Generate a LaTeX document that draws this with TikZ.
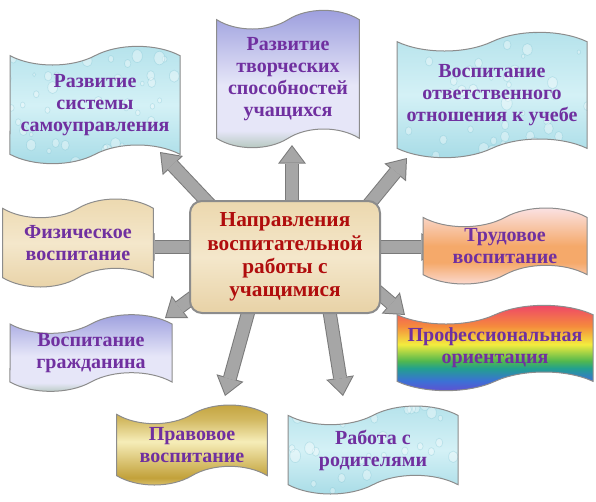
\documentclass[tikz,border=0pt]{standalone}
\usepackage{fontspec}
\setmainfont{Liberation Serif}
\usetikzlibrary{shapes.symbols,arrows.meta,calc,backgrounds}

\definecolor{rimgray}{HTML}{8C8C8C}
\definecolor{arrowrimgray}{HTML}{7A7A7A}
\definecolor{arrowgray}{HTML}{A6A6A6}
\definecolor{textpurple}{HTML}{7030A0}
\definecolor{deepred}{HTML}{B00D0D}
% fills
\definecolor{waterT}{HTML}{B4E2EB}
\definecolor{waterL}{HTML}{D4F1F6}
\definecolor{waterB}{HTML}{A6DBE6}
\definecolor{waterE}{HTML}{5FB3C6}
\definecolor{lavT}{HTML}{9A9CDD}
\definecolor{lavL}{HTML}{E6E6F8}
\definecolor{lavB}{HTML}{AEC3B6}
\definecolor{parchT}{HTML}{ECD8AE}
\definecolor{parchL}{HTML}{F4E7CB}
\definecolor{parchB}{HTML}{E8D2A6}
\definecolor{peachT}{HTML}{FBE6EC}
\definecolor{peachM}{HTML}{F5A96A}
\definecolor{peachB}{HTML}{FCE0DE}
\definecolor{goldD}{HTML}{C2A13A}
\definecolor{goldL}{HTML}{F6EDB8}
\definecolor{goldB}{HTML}{E3CD80}
\definecolor{rbRed}{HTML}{EE3D6E}
\definecolor{rbOrange}{HTML}{F58A3D}
\definecolor{rbYellow}{HTML}{F3EC3E}
\definecolor{rbGreen}{HTML}{52B84E}
\definecolor{rbTeal}{HTML}{22A08E}
\definecolor{rbBlue}{HTML}{3C70D6}
\definecolor{rbViolet}{HTML}{6A48CF}

\pgfdeclareverticalshading{waterfill}{100bp}{color(0bp)=(waterB); color(25bp)=(waterB); color(50bp)=(waterL); color(75bp)=(waterT); color(100bp)=(waterT)}
\pgfdeclareverticalshading{lavfill}{100bp}{color(0bp)=(lavB); color(25bp)=(lavB); color(32bp)=(lavL); color(48bp)=(lavL); color(75bp)=(lavT); color(100bp)=(lavT)}
\pgfdeclareverticalshading{parchfill}{100bp}{color(0bp)=(parchB); color(25bp)=(parchB); color(50bp)=(parchL); color(75bp)=(parchT); color(100bp)=(parchT)}
\pgfdeclareverticalshading{peachfill}{100bp}{color(0bp)=(peachB); color(25bp)=(peachB); color(40bp)=(peachM); color(50bp)=(peachM); color(75bp)=(peachT); color(100bp)=(peachT)}
\pgfdeclareverticalshading{goldfill}{100bp}{color(0bp)=(goldB); color(25bp)=(goldB); color(31bp)=(goldD); color(52bp)=(goldL); color(65bp)=(goldD!70!goldL); color(75bp)=(goldD); color(100bp)=(goldD)}
\pgfdeclareverticalshading{rainbowfill}{100bp}{color(0bp)=(rbViolet); color(25bp)=(rbViolet); color(32bp)=(rbBlue); color(39bp)=(rbTeal); color(43bp)=(rbGreen); color(52bp)=(rbYellow); color(62bp)=(rbOrange); color(75bp)=(rbRed); color(100bp)=(rbRed)}

% water drops for the blue banners
\newcommand{\waterdrops}{%
  \foreach \k in {1,...,70}{%
    \pgfmathsetmacro{\dropx}{240*rnd-120}%
    \pgfmathsetmacro{\dropy}{150*rnd-75}%
    \pgfmathsetmacro{\dropr}{1.5+4*rnd}%
    \filldraw[white, fill opacity=0.35, draw=waterE, draw opacity=0.25, line width=0.5pt]
      ($(path picture bounding box.center)+(\dropx,\dropy)$) ellipse [x radius=\dropr, y radius=1.25*\dropr];
  }}

\tikzset{
  banner/.style={tape, tape bend top=in and out, tape bend bottom=in and out, tape bend height=14pt,
    draw=rimgray, line width=0.75pt, shade, text=textpurple,
    font=\bfseries\fontsize{15}{16.5}\selectfont, align=center, inner sep=0pt},
  water/.style={shading=waterfill, path picture={\waterdrops}},
  lavender/.style={shading=lavfill},
  parchment/.style={shading=parchfill},
  peach/.style={shading=peachfill},
  gold/.style={shading=goldfill},
  rainbow/.style={shading=rainbowfill},
  hub/.style={rectangle, rounded corners=9pt, draw=rimgray, line width=1.5pt, shade, shading=parchfill,
    text=deepred, font=\bfseries\fontsize{16}{17.5}\selectfont, align=center, inner sep=0pt},
  arrowrim/.style={draw=arrowrimgray, line width=10.5pt, -{Triangle[width=21pt,length=14pt,line width=0pt]}},
  arrowbody/.style={draw=arrowgray, line width=9pt, shorten >=1.25pt, -{Triangle[width=18pt,length=12pt,line width=0pt]}}
}
\newcommand{\blockarrow}[2]{\draw[arrowrim] #1 -- #2; \draw[arrowbody] #1 -- #2;}

\begin{document}
\begin{tikzpicture}[x=0.75pt,y=0.75pt,yscale=-1]
	\useasboundingbox (0,0) rectangle (596,501);
	\pgfmathsetseed{11}
	
	% Hub
	\node (dir) [hub, minimum width=142.5pt, minimum height=84pt] at (285,257) {Направления\\воспитательной\\работы с\\учащимися};
	
	% Banners
	\node (selfgov) [banner, water, minimum width=127.5pt, minimum height=88pt] at (95,105) {Развитие\\системы\\самоуправления};
	\node (creative) [banner, lavender, minimum width=107pt, minimum height=103pt] at (288,79) {Развитие\\творческих\\способностей\\учащихся};
	\node (study) [banner, water, minimum width=142.5pt, minimum height=94pt] at (492,95) {Воспитание\\ответственного\\отношения к учебе};
	\node (sport) [banner, parchment, minimum width=113pt, minimum height=66pt] at (78,243) {Физическое\\воспитание};
	\node (labour) [banner, peach, minimum width=123pt, minimum height=57pt] at (505,246) {Трудовое\\воспитание};
	\node (citizen) [banner, lavender, minimum width=121.5pt, minimum height=54pt] at (91,353) {Воспитание\\гражданина};
	\node (career) [banner, rainbow, minimum width=147pt, minimum height=64pt] at (495,348) {Профессиональная\\ориентация};
	\node (law) [banner, gold, minimum width=113pt, minimum height=60pt] at (192,445) {Правовое\\воспитание};
	\node (parents) [banner, water, minimum width=127.5pt, minimum height=66pt] at (373,450) {Работа с\\родителями};
	
	% Arrows
	\begin{scope}[on background layer]
		\blockarrow{($(dir.center)+(-73,-50)$)}{($(selfgov.center)+(65,47)$)}
		\blockarrow{($(dir.center)+(7,-47)$)}{($(creative.center)+(4,66)$)}
		\blockarrow{($(dir.center)+(81,-49)$)}{($(study.center)+(-85,63)$)}
		\blockarrow{($(dir.center)+(-85,-10)$)}{($(sport.center)+(58,4)$)}
		\blockarrow{($(dir.center)+(85,-10)$)}{($(labour.center)+(-65,1)$)}
		\blockarrow{($(dir.center)+(-85,35)$)}{($(citizen.center)+(74,-35)$)}
		\blockarrow{($(dir.center)+(86,29)$)}{($(career.center)+(-90,-33)$)}
		\blockarrow{($(dir.center)+(-34,45)$)}{($(law.center)+(33,-49)$)}
		\blockarrow{($(dir.center)+(43,45)$)}{($(parents.center)+(-30,-54)$)}
	\end{scope}
	
\end{tikzpicture}
\end{document}
